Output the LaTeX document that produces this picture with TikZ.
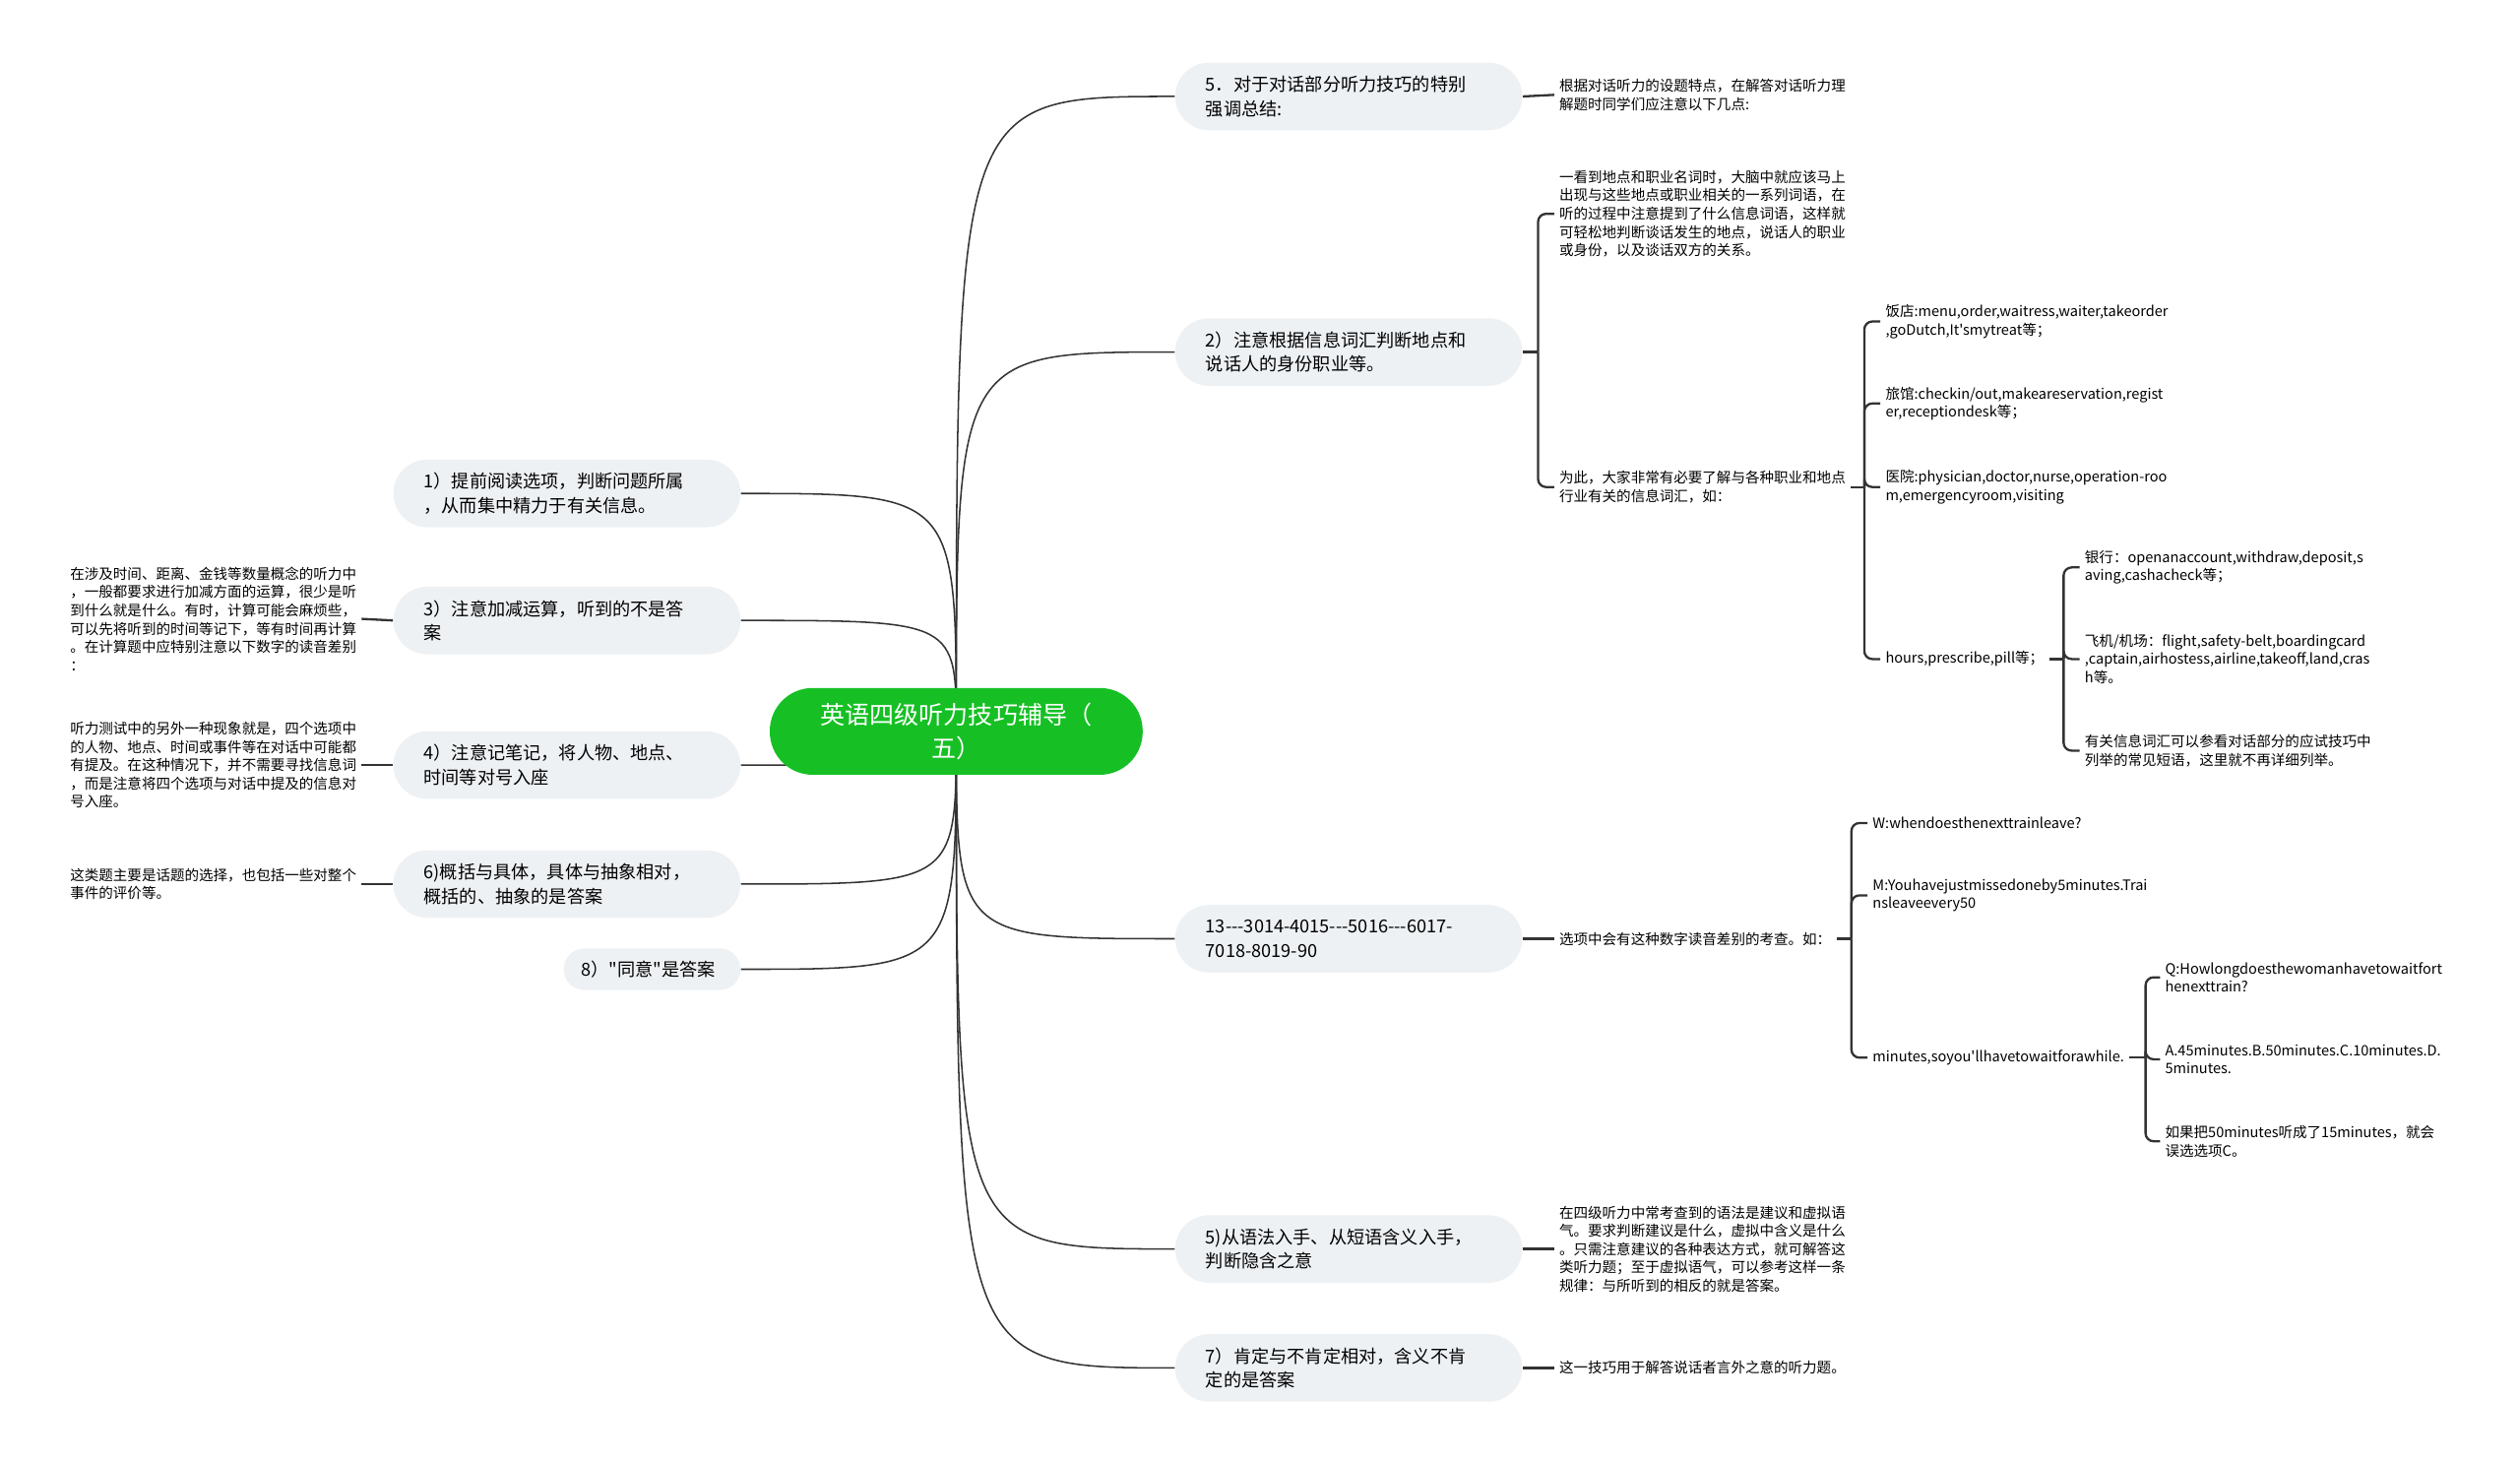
\documentclass[tikz,border=0pt]{standalone}
\usepackage{fontspec}
\newfontfamily\cjk{Noto Sans CJK SC}
\usepackage{tikz}
\usetikzlibrary{calc,backgrounds}

\definecolor{rootgreen}{HTML}{16C024}
\definecolor{topicgray}{HTML}{EEF1F4}
\definecolor{linkgray}{HTML}{333333}

\tikzset{
    root/.style={fill=rootgreen, text=white, rounded corners=0.8cm, minimum width=6.96cm,
        minimum height=1.62cm, align=center, font=\cjk\fontsize{13.1}{17.9}\selectfont},
    topic/.style={fill=topicgray, rounded corners=0.63cm, inner xsep=0.57cm, text width=5.34cm,
        minimum height=1.26cm, align=left, font=\cjk\fontsize{9.5}{12.8}\selectfont},
    leaf/.style={inner xsep=0.09cm, inner ysep=0pt, align=left, font=\cjk\fontsize{7.6}{9.7}\selectfont},
    link/.style={draw=linkgray, line width=0.8pt},
    brace/.style={draw=linkgray, line width=1.2pt, rounded corners=0.15cm},
}

\begin{document}
\begin{tikzpicture}[x=0.03cm, y=-0.03cm]
    \useasboundingbox (0,0) rectangle (1568,910);
    \node[root] (root) at (595,455) {英语四级听力技巧辅导（\\五）};

    % right side
    \node[topic, anchor=west] (r1) at (731,60) {5．对于对话部分听力技巧的特别\\强调总结:};
    \node[topic, anchor=west] (r2) at (731,219) {2）注意根据信息词汇判断地点和\\说话人的身份职业等。};
    \node[topic, anchor=west] (r3) at (731,584) {13---3014-4015---5016---6017-\\7018-8019-90};
    \node[topic, anchor=west] (r4) at (731,777) {5)从语法入手、从短语含义入手，\\判断隐含之意};
    \node[topic, anchor=west] (r5) at (731,851) {7）肯定与不肯定相对，含义不肯\\定的是答案};

    \node[leaf, anchor=west] (r1a) at (967,59) {根据对话听力的设题特点，在解答对话听力理\\解题时同学们应注意以下几点:};
    \node[leaf, anchor=west] (r2a) at (967,133) {一看到地点和职业名词时，大脑中就应该马上\\出现与这些地点或职业相关的一系列词语，在\\听的过程中注意提到了什么信息词语，这样就\\可轻松地判断谈话发生的地点，说话人的职业\\或身份，以及谈话双方的关系。};
    \node[leaf, anchor=west] (r2b) at (967,303) {为此，大家非常有必要了解与各种职业和地点\\行业有关的信息词汇，如：};
    \node[leaf, anchor=west] (r2b1) at (1170,200) {饭店:menu,order,waitress,waiter,takeorder\\,goDutch,It'smytreat等；};
    \node[leaf, anchor=west] (r2b2) at (1170,251) {旅馆:checkin/out,makeareservation,regist\\er,receptiondesk等；};
    \node[leaf, anchor=west] (r2b3) at (1170,303) {医院:physician,doctor,nurse,operation-roo\\m,emergencyroom,visiting};
    \node[leaf, anchor=west] (r2b4) at (1170,410) {hours,prescribe,pill等；};
    \node[leaf, anchor=west] (bank) at (1294,353) {银行：openanaccount,withdraw,deposit,s\\aving,cashacheck等；};
    \node[leaf, anchor=west] (plane) at (1294,410) {飞机/机场：flight,safety-belt,boardingcard\\,captain,airhostess,airline,takeoff,land,cras\\h等。};
    \node[leaf, anchor=west] (more) at (1294,467) {有关信息词汇可以参看对话部分的应试技巧中\\列举的常见短语，这里就不再详细列举。};

    \node[leaf, anchor=west] (r3a) at (967,584) {选项中会有这种数字读音差别的考查。如：};
    \node[leaf, anchor=west] (r3a1) at (1162,512) {W:whendoesthenexttrainleave?};
    \node[leaf, anchor=west] (r3a2) at (1162,557) {M:Youhavejustmissedoneby5minutes.Trai\\nsleaveevery50};
    \node[leaf, anchor=west] (r3a3) at (1162,658) {minutes,soyou'llhavetowaitforawhile.};
    \node[leaf, anchor=west] (quest) at (1344,608) {Q:Howlongdoesthewomanhavetowaitfort\\henexttrain?};
    \node[leaf, anchor=west] (opts) at (1344,659) {A.45minutes.B.50minutes.C.10minutes.D.\\5minutes.};
    \node[leaf, anchor=west] (trap) at (1344,710) {如果把50minutes听成了15minutes，就会\\误选选项C。};

    \node[leaf, anchor=west] (r4a) at (967,777) {在四级听力中常考查到的语法是建议和虚拟语\\气。要求判断建议是什么，虚拟中含义是什么\\。只需注意建议的各种表达方式，就可解答这\\类听力题；至于虚拟语气，可以参考这样一条\\规律：与所听到的相反的就是答案。};
    \node[leaf, anchor=west] (r5a) at (967,851) {这一技巧用于解答说话者言外之意的听力题。};

    % left side
    \node[topic, anchor=east] (l1) at (461,307) {1）提前阅读选项，判断问题所属\\，从而集中精力于有关信息。};
    \node[topic, anchor=east] (l2) at (461,386) {3）注意加减运算，听到的不是答\\案};
    \node[topic, anchor=east] (l3) at (461,476) {4）注意记笔记，将人物、地点、\\时间等对号入座};
    \node[topic, anchor=east] (l4) at (461,550) {6)概括与具体，具体与抽象相对，\\概括的、抽象的是答案};
    \node[topic, anchor=east, text width=2.64cm, inner xsep=0.33cm, minimum height=0.78cm,
        rounded corners=0.39cm] (l5) at (461,603) {8）"同意"是答案};

    \node[leaf, anchor=east] (l2a) at (225,385) {在涉及时间、距离、金钱等数量概念的听力中\\，一般都要求进行加减方面的运算，很少是听\\到什么就是什么。有时，计算可能会麻烦些，\\可以先将听到的时间等记下，等有时间再计算\\。在计算题中应特别注意以下数字的读音差别\\：};
    \node[leaf, anchor=east] (l3a) at (225,476) {听力测试中的另外一种现象就是，四个选项中\\的人物、地点、时间或事件等在对话中可能都\\有提及。在这种情况下，并不需要寻找信息词\\，而是注意将四个选项与对话中提及的信息对\\号入座。};
    \node[leaf, anchor=east] (l4a) at (225,550) {这类题主要是话题的选择，也包括一些对整个\\事件的评价等。};

    \coordinate (h2) at (957,219);
    \coordinate (h2b) at (1160,303);
    \coordinate (hpill) at (1284,410);
    \coordinate (h3) at (1152,584);
    \coordinate (hmin) at (1335,658);

    \begin{pgfonlayer}{background}
        \fill[white] (0,0) rectangle (1568,910);
        \foreach \t in {r1,r2,r3,r4,r5}
            \draw[link] (root.center) .. controls (root.center |- \t.west) .. (\t.west);
        \foreach \t in {l1,l2,l3,l4,l5}
            \draw[link] (root.center) .. controls (root.center |- \t.east) .. (\t.east);
        %\draw[link] (root.center) -- (r3.west);
        \draw[brace] (r1.east) -- (r1a.west);
        \draw[brace] (r4.east) -- (r4a.west);
        \draw[brace] (r5.east) -- (r5a.west);
        \draw[brace] (l2a.east) -- (l2.west);
        \draw[brace] (l3a.east) -- (l3.west);
        \draw[brace] (l4a.east) -- (l4.west);
        \draw[brace] (r2.east) -- (h2);
        \foreach \c in {r2a,r2b} \draw[brace] (h2) |- (\c.west);
        \draw[brace] (r2b.east) -- (h2b);
        \foreach \c in {r2b1,r2b2,r2b3,r2b4} \draw[brace] (h2b) |- (\c.west);
        \draw[brace] (r2b4.east) -- (hpill);
        \foreach \c in {bank,plane,more} \draw[brace] (hpill) |- (\c.west);
        \draw[brace] (r3.east) -- (r3a.west);
        \draw[brace] (r3a.east) -- (h3);
        \foreach \c in {r3a1,r3a2,r3a3} \draw[brace] (h3) |- (\c.west);
        \draw[brace] (r3a3.east) -- (hmin);
        \foreach \c in {quest,opts,trap} \draw[brace] (hmin) |- (\c.west);
    \end{pgfonlayer}
\end{tikzpicture}
\end{document}
